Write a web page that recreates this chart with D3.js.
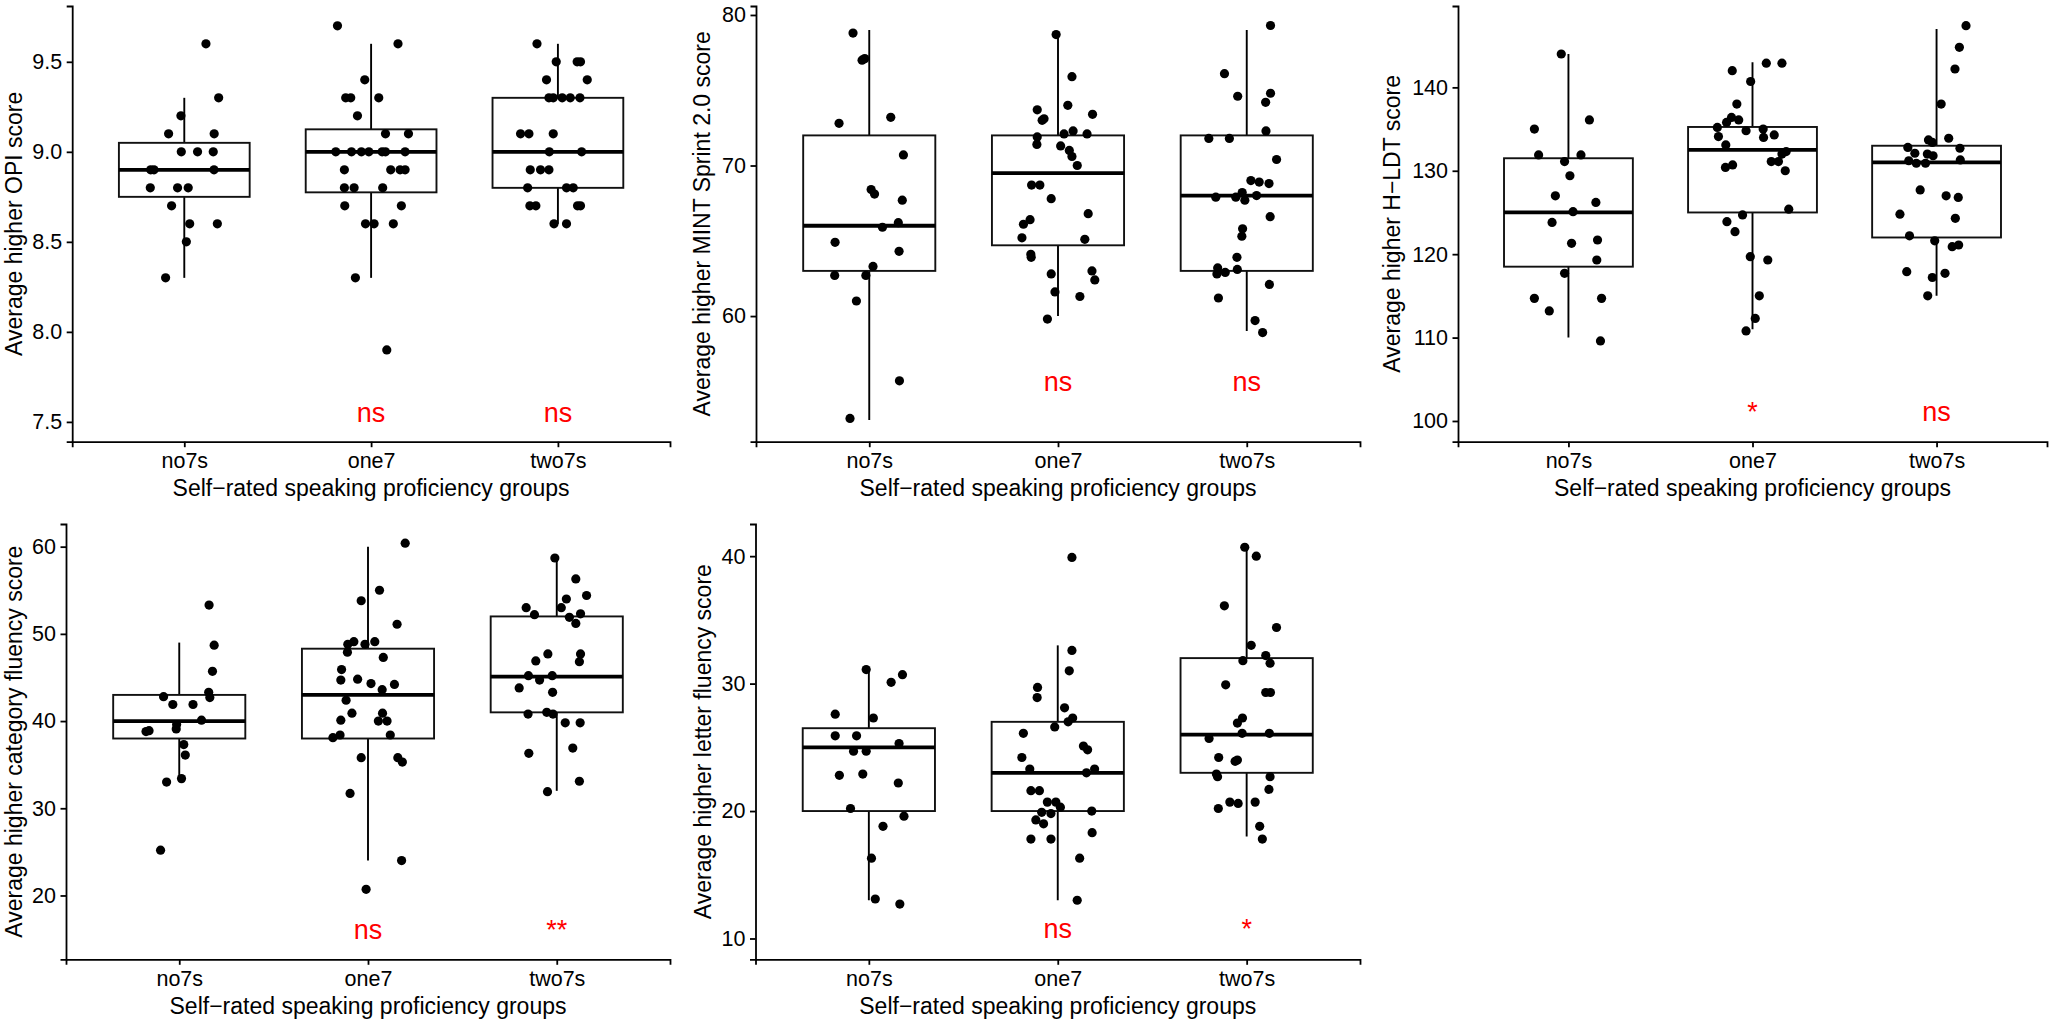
<!DOCTYPE html>
<html>
<head>
<meta charset="utf-8">
<script src="https://cdn.jsdelivr.net/npm/d3@7"></script>
<style>
  body { margin: 0; background: #fff; }
  svg { display: block; font-family: "Liberation Sans", Arial, sans-serif; }
</style>
</head>
<body>
<svg id="chart" width="2050" height="1021"></svg>
<script>
// groups on the x axis of every panel
var groups = ["no7s", "one7", "two7s"];
var xTitle = "Self\u2212rated speaking proficiency groups";

// points are [value, jitter] where jitter is in category units
// ---- OPI
var opiTicks = [7.5, 8.0, 8.5, 9.0, 9.5];
var opiLimits = [7.5, 9.7];
var opiNo7s = [[9.6,0.116],[9.3,0.184],[9.2,-0.018],[9.1,-0.084],[9.1,0.16],[9.0,-0.016],[9.0,0.071],[9.0,0.155],[8.9,-0.18],[8.9,-0.162],[8.9,0.159],[8.8,-0.182],[8.8,-0.036],[8.8,0.021],[8.7,-0.068],[8.6,0.029],[8.6,0.177],[8.5,0.011],[8.3,-0.1]];
var opiOne7 = [[9.7,-0.18],[9.6,0.144],[9.4,-0.034],[9.3,-0.136],[9.3,-0.109],[9.3,0.041],[9.2,-0.073],[9.1,0.077],[9.1,0.2],[9.0,-0.189],[9.0,-0.105],[9.0,-0.052],[9.0,-0.012],[9.0,0.059],[9.0,0.077],[9.0,0.182],[8.9,-0.143],[8.9,0.105],[8.9,0.155],[8.9,0.182],[8.8,-0.143],[8.8,-0.091],[8.8,0.062],[8.7,-0.141],[8.7,0.162],[8.6,-0.03],[8.6,0.016],[8.6,0.119],[8.3,-0.084],[7.9,0.084]];
var opiTwo7s = [[9.6,-0.112],[9.5,-0.009],[9.5,0.103],[9.5,0.121],[9.4,-0.061],[9.4,0.157],[9.3,-0.048],[9.3,-0.025],[9.3,0.023],[9.3,0.066],[9.3,0.118],[9.1,-0.2],[9.1,-0.155],[9.1,-0.025],[9.0,-0.046],[9.0,0.127],[8.9,-0.148],[8.9,-0.093],[8.9,-0.048],[8.8,-0.162],[8.8,0.046],[8.8,0.082],[8.7,-0.15],[8.7,-0.118],[8.7,0.105],[8.7,0.121],[8.6,-0.021],[8.6,0.046]];
// [lower whisker, q1, median, q3, upper whisker]
var opiBoxes = [[8.3,8.75,8.9,9.05,9.3],[8.3,8.775,9.0,9.125,9.6],[8.6,8.8,9.0,9.3,9.6]];
var opiSig = ["", "ns", "ns"];
var opiSigY = 7.5;

// ---- MINT Sprint 2.0
var mintTicks = [60, 70, 80];
var mintLimits = [52.97, 79.28];
var mintNo7s = [[78.8,-0.086],[77.0,-0.038],[77.1,-0.024],[72.8,-0.16],[73.2,0.114],[70.7,0.181],[68.4,0.01],[68.1,0.028],[67.7,0.175],[66.2,0.154],[65.9,0.07],[64.9,-0.181],[64.3,0.158],[63.3,0.02],[62.7,-0.183],[62.7,-0.018],[61.0,-0.068],[55.7,0.16],[53.2,-0.102]];
var mintOne7 = [[78.7,-0.01],[75.9,0.074],[74.0,0.052],[73.7,-0.11],[73.4,0.183],[73.0,-0.084],[73.1,-0.074],[72.3,0.08],[72.1,0.032],[72.1,0.154],[71.9,-0.11],[71.4,-0.112],[71.3,0.014],[71.0,0.06],[70.6,0.074],[70.0,0.102],[68.7,-0.14],[68.7,-0.096],[67.8,-0.036],[66.8,0.16],[66.4,-0.148],[66.1,-0.183],[65.2,-0.191],[65.1,0.142],[64.1,-0.144],[63.9,-0.142],[63.0,0.18],[62.8,-0.036],[62.4,0.195],[61.6,-0.016],[61.3,0.116],[59.8,-0.056]];
var mintTwo7s = [[79.3,0.126],[76.1,-0.118],[74.6,-0.048],[74.8,0.126],[74.2,0.1],[72.3,0.102],[71.8,-0.201],[71.8,-0.092],[70.4,0.158],[69.0,0.022],[68.9,0.066],[68.8,0.118],[68.2,-0.024],[67.9,-0.164],[67.9,-0.058],[67.7,-0.01],[68.0,0.052],[66.6,0.124],[65.8,-0.022],[65.3,-0.026],[63.9,-0.052],[63.2,-0.154],[62.8,-0.158],[62.9,-0.114],[63.1,-0.05],[62.1,0.12],[61.2,-0.15],[59.7,0.044],[58.9,0.084]];
var mintBoxes = [[53.1,63.0,66.0,72.0,79.0],[60.0,64.7,69.5,72.0,78.8],[59.0,63.0,68.0,72.0,79.0]];
var mintSig = ["", "ns", "ns"];
var mintSigY = 55;

// ---- H-LDT
var hldtTicks = [100, 110, 120, 130, 140];
var hldtLimits = [99.89, 147.38];
var hldtNo7s = [[144.0,-0.039],[136.1,0.114],[135.0,-0.185],[131.9,-0.162],[131.9,0.068],[131.1,-0.021],[129.4,0.008],[127.0,-0.071],[126.2,0.149],[125.1,0.025],[123.8,-0.089],[121.3,0.017],[121.7,0.158],[119.3,0.154],[117.7,-0.021],[114.7,-0.185],[114.7,0.18],[113.2,-0.104],[109.6,0.174]];
var hldtOne7 = [[142.9,0.075],[142.9,0.16],[142.0,-0.11],[140.7,-0.01],[138.0,-0.085],[136.4,-0.114],[136.1,-0.075],[135.8,-0.141],[135.2,-0.191],[134.8,-0.035],[135.0,0.058],[134.3,0.118],[134.0,0.06],[134.1,-0.185],[133.1,-0.145],[132.3,0.183],[132.0,0.16],[131.1,0.102],[131.1,0.141],[130.0,0.178],[130.4,-0.147],[130.7,-0.108],[125.4,0.197],[124.7,-0.054],[123.9,-0.139],[122.7,-0.095],[119.7,-0.012],[119.3,0.083],[115.0,0.037],[112.3,0.015],[110.8,-0.035]];
var hldtTwo7s = [[147.4,0.16],[144.8,0.124],[142.2,0.1],[138.0,0.025],[133.7,-0.044],[133.4,-0.023],[133.9,0.066],[132.8,-0.156],[132.7,0.127],[132.1,-0.118],[132.0,-0.05],[131.8,-0.019],[131.2,-0.151],[130.9,-0.11],[130.9,-0.06],[131.3,0.129],[127.7,-0.089],[127.0,0.052],[126.8,0.118],[124.8,-0.199],[124.3,0.102],[122.2,-0.147],[121.6,-0.01],[120.9,0.085],[121.1,0.12],[117.9,-0.162],[117.7,0.046],[117.2,-0.023],[115.0,-0.048]];
var hldtBoxes = [[110.0,118.5,125.0,131.5,144.0],[111.0,125.0,132.5,135.25,143.0],[115.0,122.0,131.0,133.0,147.0]];
var hldtSig = ["", "*", "ns"];
var hldtSigY = 100;

// ---- category fluency
var catTicks = [20, 30, 40, 50, 60];
var catLimits = [14.95, 60.33];
var catNo7s = [[53.3,0.158],[48.7,0.185],[45.7,0.176],[43.3,0.156],[42.7,0.162],[42.8,-0.083],[41.9,-0.034],[41.9,0.073],[40.1,0.118],[39.6,-0.014],[39.1,-0.016],[38.8,-0.176],[38.9,-0.16],[37.3,0.024],[36.1,0.032],[33.4,0.012],[33.0,-0.067],[25.2,-0.099]];
var catOne7 = [[60.4,0.197],[55.0,0.061],[53.8,-0.036],[51.1,0.154],[48.8,-0.107],[49.1,-0.075],[48.8,-0.016],[49.1,0.036],[47.9,-0.109],[47.3,0.081],[45.9,-0.14],[44.7,-0.144],[44.8,-0.055],[44.3,0.016],[43.6,0.075],[44.2,0.14],[42.4,-0.116],[40.9,-0.085],[40.9,0.077],[40.1,-0.144],[40.0,0.055],[40.0,0.101],[38.4,0.118],[38.1,-0.186],[38.4,-0.148],[35.8,-0.036],[35.8,0.158],[35.3,0.182],[31.7,-0.095],[24.0,0.178],[20.7,-0.01]];
var catTwo7s = [[58.7,-0.01],[56.3,0.101],[54.4,0.158],[54.0,0.051],[53.0,0.024],[53.0,-0.162],[52.3,0.126],[51.9,0.067],[52.2,-0.118],[51.2,0.101],[47.7,-0.047],[47.7,0.126],[46.8,0.12],[46.9,-0.111],[45.2,-0.15],[45.2,-0.024],[44.7,-0.091],[43.8,-0.199],[43.3,-0.022],[40.8,-0.152],[41.0,-0.053],[40.8,-0.02],[39.8,0.045],[39.8,0.124],[36.9,0.085],[36.3,-0.148],[33.1,0.12],[31.9,-0.049]];
var catBoxes = [[33.3,38.0,40.0,43.0,49.0],[24.0,38.0,43.0,48.3,60.0],[32.0,41.0,45.1,52.0,58.7]];
var catSig = ["", "ns", "**"];
var catSigY = 15;

// ---- letter fluency
var letTicks = [10, 20, 30, 40];
var letLimits = [9.92, 40.97];
var letNo7s = [[31.1,-0.014],[30.7,0.178],[30.1,0.118],[27.6,-0.178],[27.3,0.024],[25.9,-0.178],[25.9,-0.065],[25.3,0.16],[24.7,-0.081],[24.7,-0.014],[22.8,-0.156],[22.9,-0.032],[22.2,0.156],[20.2,-0.097],[19.6,0.186],[18.8,0.075],[16.3,0.014],[13.1,0.034],[12.7,0.164]];
var letOne7 = [[39.9,0.075],[32.6,0.075],[31.0,0.061],[29.7,-0.107],[28.9,-0.109],[28.1,0.036],[27.3,0.079],[27.0,0.055],[26.6,-0.016],[26.1,-0.182],[25.1,0.136],[24.8,0.158],[24.2,-0.19],[23.3,-0.148],[23.3,0.195],[23.0,0.152],[21.6,-0.142],[21.6,-0.097],[20.7,-0.055],[20.7,-0.01],[20.3,0.014],[19.9,-0.085],[19.8,-0.036],[20.0,0.18],[19.3,-0.116],[19.0,-0.075],[18.3,0.182],[17.8,-0.142],[17.8,-0.036],[16.3,0.116],[13.0,0.103]];
var letTwo7s = [[40.7,-0.01],[40.0,0.051],[36.1,-0.118],[34.4,0.158],[33.0,0.024],[32.2,0.101],[31.8,-0.02],[31.6,0.124],[29.9,-0.111],[29.3,0.101],[29.3,0.126],[27.3,-0.022],[26.9,-0.049],[26.1,-0.024],[26.1,0.12],[25.7,-0.199],[24.2,-0.148],[23.9,-0.061],[24.0,-0.049],[22.9,-0.16],[22.7,-0.154],[22.7,0.124],[21.7,0.118],[20.7,-0.089],[20.6,-0.045],[20.7,0.045],[20.2,-0.15],[18.8,0.069],[17.8,0.083]];
var letBoxes = [[13.0,20.0,25.0,26.5,31.1],[13.0,20.0,23.0,27.0,33.0],[18.0,23.0,26.0,32.0,40.7]];
var letSig = ["", "ns", "*"];
var letSigY = 10;


// panel frames in pixels (plot area) + where the y title sits
var panels = [
  { yTitle: "Average higher OPI score", ticks: opiTicks, limits: opiLimits, fmt: ".1f",
    points: [opiNo7s, opiOne7, opiTwo7s], boxes: opiBoxes, sig: opiSig, sigY: opiSigY,
    x0: 72.2, x1: 670, y0: 6, y1: 441.7, titleX: 21.5 },
  { yTitle: "Average higher MINT Sprint 2.0 score", ticks: mintTicks, limits: mintLimits, fmt: "d",
    points: [mintNo7s, mintOne7, mintTwo7s], boxes: mintBoxes, sig: mintSig, sigY: mintSigY,
    x0: 756, x1: 1360, y0: 6, y1: 441.7, titleX: 709.5 },
  { yTitle: "Average higher H\u2212LDT score", ticks: hldtTicks, limits: hldtLimits, fmt: "d",
    points: [hldtNo7s, hldtOne7, hldtTwo7s], boxes: hldtBoxes, sig: hldtSig, sigY: hldtSigY,
    x0: 1458, x1: 2047, y0: 6, y1: 441.7, titleX: 1399.5 },
  { yTitle: "Average higher category fluency score", ticks: catTicks, limits: catLimits, fmt: "d",
    points: [catNo7s, catOne7, catTwo7s], boxes: catBoxes, sig: catSig, sigY: catSigY,
    x0: 66, x1: 670, y0: 524, y1: 959.3, titleX: 21.5 },
  { yTitle: "Average higher letter fluency score", ticks: letTicks, limits: letLimits, fmt: "d",
    points: [letNo7s, letOne7, letTwo7s], boxes: letBoxes, sig: letSig, sigY: letSigY,
    x0: 755.5, x1: 1360, y0: 524, y1: 959.3, titleX: 710.5 }
];

var svg = d3.select("#chart");

function drawPanel(p) {
  var g = svg.append("g");

  var x = d3.scalePoint().domain(groups).range([p.x0, p.x1]).padding(0.6);
  var step = x.step();

  // ggplot style 5% expansion
  var pad = (p.limits[1] - p.limits[0]) * 0.05;
  var y = d3.scaleLinear()
      .domain([p.limits[0] - pad, p.limits[1] + pad])
      .range([p.y1, p.y0]);

  var boxW = step * 0.7;

  // boxes
  var bx = g.selectAll(".box")
      .data(p.boxes)
      .enter().append("g")
      .attr("class", "box");

  bx.append("line")
      .attr("x1", function(d, i) { return x(groups[i]) })
      .attr("x2", function(d, i) { return x(groups[i]) })
      .attr("y1", function(d) { return y(d[0]) })
      .attr("y2", function(d) { return y(d[4]) })
      .attr("stroke", "#000").attr("stroke-width", 1.9);

  bx.append("rect")
      .attr("x", function(d, i) { return x(groups[i]) - boxW / 2 })
      .attr("width", boxW)
      .attr("y", function(d) { return y(d[3]) })
      .attr("height", function(d) { return y(d[1]) - y(d[3]) })
      .attr("fill", "#fff")
      .attr("stroke", "#111").attr("stroke-width", 1.9);

  bx.append("line")
      .attr("x1", function(d, i) { return x(groups[i]) - boxW / 2 })
      .attr("x2", function(d, i) { return x(groups[i]) + boxW / 2 })
      .attr("y1", function(d) { return y(d[2]) })
      .attr("y2", function(d) { return y(d[2]) })
      .attr("stroke", "#000").attr("stroke-width", 3.8);

  // jittered points
  p.points.forEach(function(pts, gi) {
    g.selectAll(".pt" + gi)
        .data(pts)
        .enter().append("circle")
        .attr("cx", function(d) { return x(groups[gi]) + d[1] * step })
        .attr("cy", function(d) { return y(d[0]) })
        .attr("r", 4.6)
        .attr("fill", "#000");
  });

  // significance labels
  g.selectAll(".sig")
      .data(p.sig)
      .enter().append("text")
      .attr("x", function(d, i) { return x(groups[i]) })
      .attr("y", y(p.sigY))
      .attr("text-anchor", "middle")
      .attr("font-size", 27)
      .attr("fill", "#ff0000")
      .text(function(d) { return d });

  // axes
  var xAxis = g.append("g")
      .attr("transform", "translate(0," + p.y1 + ")")
      .call(d3.axisBottom(x).tickSizeOuter(0).tickSize(5.5).tickPadding(6));

  var yAxis = g.append("g")
      .attr("transform", "translate(" + p.x0 + ",0)")
      .call(d3.axisLeft(y).tickValues(p.ticks).tickFormat(d3.format(p.fmt))
            .tickSizeOuter(0).tickSize(5.5).tickPadding(4.5));

  [xAxis, yAxis].forEach(function(a) {
    a.selectAll("path, line").attr("stroke", "#000").attr("stroke-width", 1.8);
    a.selectAll("text")
        .attr("fill", "#000")
        .attr("font-size", 21.5)
        .attr("font-family", "Liberation Sans, Arial, sans-serif");
  });

  // titles
  g.append("text")
      .attr("x", (p.x0 + p.x1) / 2)
      .attr("y", p.y1 + 54.5)
      .attr("text-anchor", "middle")
      .attr("font-size", 23)
      .text(xTitle);

  g.append("text")
      .attr("transform", "translate(" + p.titleX + "," + (p.y0 + p.y1) / 2 + ") rotate(-90)")
      .attr("text-anchor", "middle")
      .attr("font-size", 23)
      .text(p.yTitle);
}

panels.forEach(drawPanel);
</script>
</body>
</html>
